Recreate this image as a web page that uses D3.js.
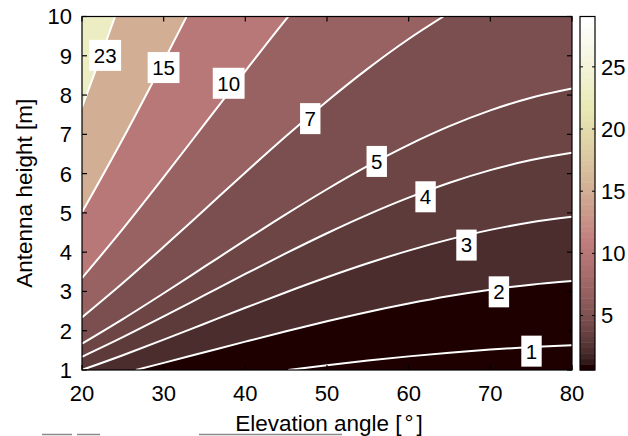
<!DOCTYPE html>
<html>
<head>
<meta charset="utf-8">
<script src="https://cdn.jsdelivr.net/npm/d3@7/dist/d3.min.js"></script>
<style>
  html, body { margin: 0; padding: 0; background: #fff; }
  svg { display: block; font-family: "Liberation Sans", Arial, Helvetica, sans-serif; }
</style>
</head>
<body>
<svg id="chart" width="628" height="436"></svg>
<script>
// ---------------- data ----------------
const elevationTicks = [20, 30, 40, 50, 60, 70, 80];
const heightTicks = [1, 2, 3, 4, 5, 6, 7, 8, 9, 10];
const colorbarTicks = [5, 10, 15, 20, 25];
const valueRange = [0.62, 29.05];           // colour limits (min, max of the field)
const contourLevels = [1, 2, 3, 4, 5, 7, 10, 15, 23];

// contour lines: [elevation (deg), antenna height (m)]
const contour_1 = [[45.25,1],[50,1.120],[55,1.239],[60,1.347],[65,1.442],[70,1.522],[75,1.586],[80,1.633]];
const contour_2 = [[26.58,1],[30,1.182],[35,1.452],[40,1.722],[45,1.987],[50,2.241],[55,2.478],[60,2.693],[65,2.884],[70,3.044],[75,3.173],[80,3.266]];
const contour_3 = [[20,1.003],[25,1.377],[30,1.772],[35,2.178],[40,2.584],[45,2.981],[50,3.361],[55,3.717],[60,4.040],[65,4.325],[70,4.567],[75,4.759],[80,4.899]];
const contour_4 = [[20,1.337],[25,1.836],[30,2.363],[35,2.904],[40,3.445],[45,3.974],[50,4.482],[55,4.956],[60,5.387],[65,5.767],[70,6.089],[75,6.345],[80,6.532]];
const contour_5 = [[20,1.671],[25,2.296],[30,2.954],[35,3.630],[40,4.306],[45,4.968],[50,5.602],[55,6.195],[60,6.734],[65,7.209],[70,7.611],[75,7.932],[80,8.166]];
const contour_7 = [[20,2.339],[25,3.214],[30,4.136],[35,5.081],[40,6.028],[45,6.955],[50,7.843],[55,8.672],[60,9.427],[64.25,10]];
const contour_10 = [[20,3.342],[25,4.591],[30,5.908],[35,7.259],[40,8.612],[45,9.936],[45.25,10]];
const contour_15 = [[20,5.013],[25,6.887],[30,8.862],[32.81,10]];
const contour_23 = [[20,7.687],[22,8.812],[24.05,10]];

// inline label positions (box centres)
const labelLevels    = [23, 15, 10, 7, 5, 4, 3, 2, 1];
const labelElevation = [22.84, 29.99, 37.96, 47.95, 56.09, 62.07, 67.08, 71.05, 75.04];
const labelHeight    = [9.01, 8.70, 8.30, 7.40, 6.31, 5.41, 4.18, 2.99, 1.48];

const contourData = [contour_1, contour_2, contour_3, contour_4, contour_5, contour_7, contour_10, contour_15, contour_23];

// ---------------- layout ----------------
const plot = { left: 82, right: 572, top: 16.5, bottom: 370 };
const cbar = { left: 580, right: 595 };
const FONT = 22;
const TITLE_FONT = 22.5;

const svg = d3.select("#chart");

const x = d3.scaleLinear().domain([20, 80]).range([plot.left, plot.right]);
const y = d3.scaleLinear().domain([1, 10]).range([plot.bottom, plot.top]);
const cy = d3.scaleLinear().domain(valueRange).range([plot.bottom, plot.top]);

// MATLAB "pink" colormap (64 entries)
function pinkMap(m) {
  const n = Math.floor(3 / 8 * m);
  const out = [];
  for (let i = 1; i <= m; i++) {
    const gray = (i - 1) / (m - 1);
    const r = i <= n ? i / n : 1;
    const g = i <= n ? 0 : (i <= 2 * n ? (i - n) / n : 1);
    const b = i <= 2 * n ? 0 : (i - 2 * n) / (m - 2 * n);
    const c = [r, g, b].map(h => Math.round(255 * Math.sqrt((2 * gray + h) / 3)));
    out.push(d3.rgb(c[0], c[1], c[2]).formatHex());
  }
  return out;
}
const cmap = pinkMap(64);
function colorOf(v) {
  const t = (v - valueRange[0]) / (valueRange[1] - valueRange[0]);
  const idx = Math.max(0, Math.min(63, Math.floor(t * 64)));
  return cmap[idx];
}

// clip
svg.append("defs").append("clipPath").attr("id", "plotclip")
  .append("rect")
  .attr("x", plot.left).attr("y", plot.top)
  .attr("width", plot.right - plot.left).attr("height", plot.bottom - plot.top);

const gPlot = svg.append("g").attr("clip-path", "url(#plotclip)");

// base fill (below lowest level)
gPlot.append("rect")
  .attr("x", plot.left).attr("y", plot.top)
  .attr("width", plot.right - plot.left).attr("height", plot.bottom - plot.top)
  .attr("fill", colorOf(valueRange[0]));

const lineGen = d3.line()
  .x(d => x(d[0])).y(d => y(d[1]))
  .curve(d3.curveMonotoneX);

// filled regions (value >= level) drawn from low to high
contourLevels.forEach((lev, i) => {
  const pts = contourData[i];
  const first = pts[0], last = pts[pts.length - 1];
  let p = lineGen(pts);
  if (last[0] >= 80 - 1e-9 && last[1] < 10) p += "L" + x(80) + "," + y(10);
  p += "L" + x(20) + "," + y(10);
  if (first[0] > 20 + 1e-9) p += "L" + x(20) + "," + y(1);
  p += "Z";
  gPlot.append("path").attr("d", p).attr("fill", colorOf(lev)).attr("stroke", "none");
});

// contour lines
contourLevels.forEach((lev, i) => {
  gPlot.append("path")
    .attr("d", lineGen(contourData[i]))
    .attr("fill", "none")
    .attr("stroke", "#ffffff")
    .attr("stroke-width", 2);
});

// labels
const gLab = svg.append("g");
labelLevels.forEach((lev, i) => {
  const cx = x(labelElevation[i]), cyy = y(labelHeight[i]);
  const t = gLab.append("text")
    .attr("x", cx).attr("y", cyy)
    .attr("dy", "0.36em")
    .attr("text-anchor", "middle")
    .attr("font-size", 20.5)
    .attr("fill", "#000")
    .text(lev);
  const w = t.node().getComputedTextLength() + 9;
  gLab.insert("rect", "text")
    .attr("x", cx - w / 2).attr("y", cyy - 15.5)
    .attr("width", w).attr("height", 31)
    .attr("fill", "#fff");
});

// axes box + ticks (inward)
const gAx = svg.append("g").attr("stroke", "#000").attr("stroke-width", 1.2);
gAx.append("rect")
  .attr("x", plot.left).attr("y", plot.top)
  .attr("width", plot.right - plot.left).attr("height", plot.bottom - plot.top)
  .attr("fill", "none");
const TL = 5;
elevationTicks.forEach(v => {
  gAx.append("line").attr("x1", x(v)).attr("x2", x(v)).attr("y1", plot.bottom).attr("y2", plot.bottom - TL);
  gAx.append("line").attr("x1", x(v)).attr("x2", x(v)).attr("y1", plot.top).attr("y2", plot.top + TL);
});
heightTicks.forEach(v => {
  gAx.append("line").attr("x1", plot.left).attr("x2", plot.left + TL).attr("y1", y(v)).attr("y2", y(v));
  gAx.append("line").attr("x1", plot.right).attr("x2", plot.right - TL).attr("y1", y(v)).attr("y2", y(v));
});

// tick labels
const gTxt = svg.append("g").attr("font-size", FONT).attr("fill", "#000");
elevationTicks.forEach(v => {
  gTxt.append("text").attr("x", x(v)).attr("y", 400.5).attr("text-anchor", "middle").text(v);
});
heightTicks.forEach(v => {
  gTxt.append("text").attr("x", plot.left - 10).attr("y", y(v)).attr("dy", "0.36em")
    .attr("text-anchor", "end").text(v);
});

// axis titles
const xt = gTxt.append("text")
  .attr("x", (plot.left + plot.right) / 2 + 2).attr("y", 431)
  .attr("text-anchor", "middle")
  .attr("font-size", TITLE_FONT);
xt.append("tspan").text("Elevation angle [");
xt.append("tspan").attr("dx", 3).text("°");
xt.append("tspan").attr("dx", 3).text("]");

gTxt.append("text")
  .attr("transform", `translate(32,${(plot.top + plot.bottom) / 2}) rotate(-90)`)
  .attr("text-anchor", "middle")
  .attr("font-size", TITLE_FONT)
  .text("Antenna height [m]");

// colorbar
const gCb = svg.append("g");
const step = (valueRange[1] - valueRange[0]) / 64;
cmap.forEach((c, i) => {
  const v0 = valueRange[0] + i * step, v1 = v0 + step;
  gCb.append("rect")
    .attr("x", cbar.left).attr("width", cbar.right - cbar.left)
    .attr("y", cy(v1)).attr("height", cy(v0) - cy(v1) + 0.5)
    .attr("fill", c);
});
gCb.append("rect")
  .attr("x", cbar.left).attr("y", plot.top)
  .attr("width", cbar.right - cbar.left).attr("height", plot.bottom - plot.top)
  .attr("fill", "none").attr("stroke", "#000").attr("stroke-width", 1.2);
colorbarTicks.forEach(v => {
  gCb.append("line").attr("x1", cbar.left).attr("x2", cbar.left + 3).attr("y1", cy(v)).attr("y2", cy(v))
    .attr("stroke", "#000").attr("stroke-width", 1);
  gCb.append("line").attr("x1", cbar.right).attr("x2", cbar.right - 3).attr("y1", cy(v)).attr("y2", cy(v))
    .attr("stroke", "#000").attr("stroke-width", 1);
  gTxt.append("text").attr("x", cbar.right + 6).attr("y", cy(v)).attr("dy", "0.36em")
    .attr("text-anchor", "start").text(v);
});

// faint gray strokes along the bottom edge of the image
const gArt = svg.append("g").attr("stroke", "#8a8a8a").attr("stroke-width", 1.5);
[[42, 72], [77, 100], [199, 342]].forEach(s => {
  gArt.append("line").attr("x1", s[0]).attr("x2", s[1]).attr("y1", 434.5).attr("y2", 434.5);
});
</script>
</body>
</html>
